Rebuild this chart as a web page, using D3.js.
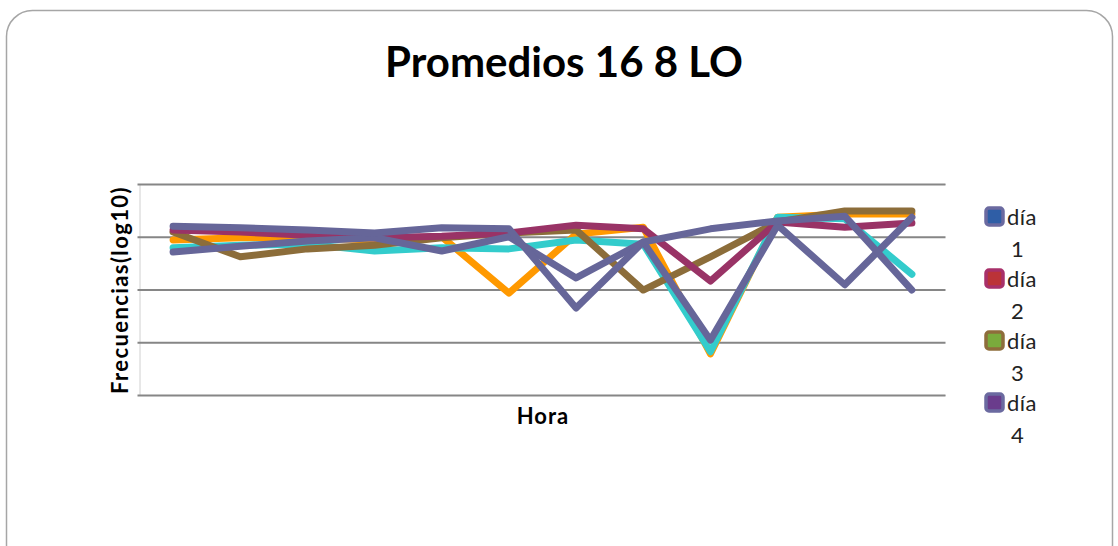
<!DOCTYPE html>
<html>
<head>
<meta charset="utf-8">
<script src="https://cdn.jsdelivr.net/npm/d3@7"></script>
<style>
  html, body { margin: 0; padding: 0; background: #fff; }
  svg { display: block; }
  text { font-family: Lato, "Open Sans", "Liberation Sans", sans-serif; }
</style>
</head>
<body>
<svg id="chart" width="1118" height="546"></svg>
<script>
// Hour slots along the x axis (no tick labels are shown)
const hours = ["h1", "h2", "h3", "h4", "h5", "h6", "h7", "h8", "h9", "h10", "h11", "h12"];

// Mean frequencies (log10) per day
const dia1 = [3.20, 3.17, 3.13, 3.07, 3.17, 3.15, 1.65, 2.90, 3.15, 3.30, 3.39, 1.99];
const dia2 = [3.13, 3.09, 3.03, 2.98, 3.01, 3.07, 3.22, 3.15, 2.16, 3.28, 3.18, 3.26];
const dia3 = [3.09, 2.62, 2.77, 2.84, 2.98, 3.07, 3.13, 1.99, 2.62, 3.28, 3.49, 3.49];
const dia4 = [2.71, 2.82, 2.92, 2.98, 2.73, 3.00, 2.22, 2.90, 1.04, 3.22, 2.09, 3.37];
const dia5 = [2.94, 2.98, 2.98, 2.94, 3.00, 1.93, 3.05, 3.18, 0.78, 3.37, 3.43, 3.43];
const dia6 = [2.79, 2.84, 2.86, 2.73, 2.79, 2.77, 2.94, 2.86, 0.82, 3.37, 3.34, 2.29];

// Gridline levels of the value axis
const yTicks = [0, 1, 2, 3, 4];

// Series in drawing order (later ones on top)
const series = [
  { name: "día 5", values: dia5, color: "#ff9900" },
  { name: "día 6", values: dia6, color: "#33cccc" },
  { name: "día 3", values: dia3, color: "#8c6d3a" },
  { name: "día 2", values: dia2, color: "#993366" },
  { name: "día 4", values: dia4, color: "#666699" },
  { name: "día 1", values: dia1, color: "#666699" }
];

// Legend entries: outline colour and inner swatch colour
const legendItems = [
  { label: "día", num: "1", stroke: "#6b6aa0", fill: "#2f5ea6" },
  { label: "día", num: "2", stroke: "#a8306a", fill: "#bb3338" },
  { label: "día", num: "3", stroke: "#8e6d3b", fill: "#7aab3c" },
  { label: "día", num: "4", stroke: "#6b6aa0", fill: "#6a3c8c" }
];

const svg = d3.select("#chart");

// Chart area frame
svg.append("rect")
  .attr("x", 6.5).attr("y", 10.5)
  .attr("width", 1106).attr("height", 560)
  .attr("rx", 26).attr("ry", 26)
  .attr("fill", "#fff")
  .attr("stroke", "#a6a6a6")
  .attr("stroke-width", 1.5);

const plot = { left: 139.5, right: 945.5, top: 184, bottom: 395 };

const x = d3.scaleBand().domain(hours).range([plot.left, plot.right]);
const y = d3.scaleLinear().domain([0, 4]).range([plot.bottom, plot.top]);

// Horizontal gridlines with short tick stubs on the left
const gy = svg.append("g")
  .attr("transform", `translate(${plot.left},0)`)
  .call(d3.axisLeft(y).tickValues(yTicks).tickSize(-(plot.right - plot.left)).tickFormat(""));
gy.select(".domain").attr("stroke", "#d0d0d0").attr("stroke-width", 1);
gy.selectAll(".tick line").attr("stroke", "#868686").attr("stroke-width", 2.2)
  .attr("x1", -2);

// Data lines
const line = d3.line()
  .x((d, i) => x(hours[i]) + x.bandwidth() / 2)
  .y(d => y(d));

svg.append("g").selectAll("path")
  .data(series)
  .join("path")
  .attr("d", d => line(d.values))
  .attr("fill", "none")
  .attr("stroke", d => d.color)
  .attr("stroke-width", 7)
  .attr("stroke-linejoin", "round")
  .attr("stroke-linecap", "round");

// Title
svg.append("text")
  .attr("x", 564).attr("y", 77)
  .attr("text-anchor", "middle")
  .attr("font-size", 42).attr("font-weight", "bold")
  .attr("fill", "#000")
  .text("Promedios 16 8 LO");

// Axis titles
svg.append("text")
  .attr("transform", "translate(128,290) rotate(-90)")
  .attr("text-anchor", "middle")
  .attr("font-size", 22).attr("font-weight", "bold")
  .attr("letter-spacing", 1.4)
  .text("Frecuencias(log10)");

svg.append("text")
  .attr("x", 543).attr("y", 424)
  .attr("text-anchor", "middle")
  .attr("font-size", 22).attr("font-weight", "bold")
  .attr("letter-spacing", 1)
  .text("Hora");

// Legend
const lg = svg.append("g").attr("transform", "translate(985,208)");
const item = lg.selectAll("g")
  .data(legendItems)
  .join("g")
  .attr("transform", (d, i) => `translate(0,${i * 62})`);

item.append("rect")
  .attr("x", 1).attr("y", 0).attr("width", 17).attr("height", 17)
  .attr("rx", 3)
  .attr("fill", d => d.fill)
  .attr("stroke", d => d.stroke)
  .attr("stroke-width", 3.5);

item.append("text")
  .attr("x", 22).attr("y", 17)
  .attr("font-size", 22)
  .attr("letter-spacing", 0.5)
  .attr("fill", "#222")
  .text(d => d.label);

item.append("text")
  .attr("x", 26).attr("y", 49)
  .attr("font-size", 22)
  .attr("fill", "#222")
  .text(d => d.num);
</script>
</body>
</html>
